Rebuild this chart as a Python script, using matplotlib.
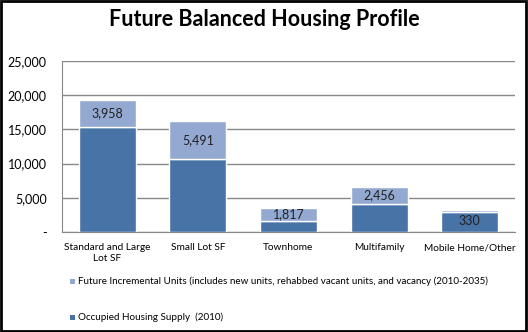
import matplotlib
matplotlib.use("Agg")
import matplotlib.pyplot as plt
from matplotlib.patches import Rectangle
import numpy as np

categories = ["Standard and Large\nLot SF", "Small Lot SF", "Townhome", "Multifamily", "Mobile Home/Other"]
occupied = [15400, 10700, 1680, 4150, 2900]
incremental = [3958, 5491, 1817, 2456, 330]
yticks = [0, 5000, 10000, 15000, 20000, 25000]
ytick_labels = ["-", "5,000", "10,000", "15,000", "20,000", "25,000"]
legend_labels = ["Future Incremental Units (includes new units, rehabbed vacant units, and vacancy (2010-2035)",
                 "Occupied Housing Supply  (2010)"]

dark = "#4773a7"
light = "#93a9d1"
grid = "#888888"
font = "Lato"

fig = plt.figure(figsize=(5.28, 3.32), dpi=100)
fig.patch.set_facecolor("white")
fig.add_artist(Rectangle((0.002, 0.003), 0.995, 0.994, transform=fig.transFigure,
                         fill=False, edgecolor="black", linewidth=2))

ax = fig.add_axes([62/528, 1-232/332, (515-62)/528, (232-61)/332])
x = np.arange(len(categories))
w = 0.63
ax.bar(x, occupied, width=w, color=dark, edgecolor="white", linewidth=1, zorder=3)
ax.bar(x, incremental, bottom=occupied, width=w, color=light, edgecolor="white", linewidth=1, zorder=3)

for i, (o, inc) in enumerate(zip(occupied, incremental)):
    yc = o + inc / 2
    dy = 0
    if inc < 800:
        dy = -7.5
    ax.annotate(f"{inc:,}", (x[i], yc), xytext=(0, dy), textcoords="offset points",
                ha="center", va="center", fontsize=9, family=font, color="#222222", zorder=5)

ax.set_xlim(-0.5, len(categories) - 0.5)
ax.set_ylim(0, 25000)
ax.set_yticks(yticks)
ax.set_yticklabels(ytick_labels, family=font, fontsize=9)
ax.set_xticks(x)
ax.set_xticklabels(categories, family=font, fontsize=7.3, linespacing=1.25)
ax.tick_params(axis="both", length=0)
ax.tick_params(axis="x", pad=8)
ax.tick_params(axis="y", pad=11)
ax.yaxis.grid(True, color=grid, linewidth=1, zorder=0)
ax.set_axisbelow(True)
for s in ["top", "right"]:
    ax.spines[s].set_visible(False)
ax.spines["left"].set_color(grid)
ax.spines["bottom"].set_color(grid)

fig.text(0.5, 1-20/332, "Future Balanced Housing Profile", ha="center", va="center",
         fontsize=15.5, fontweight="bold", family=font)

for ypix, lab, col in [(281, legend_labels[0], light), (317, legend_labels[1], dark)]:
    fig.add_artist(Rectangle((70/528, 1-(ypix+2.5)/332), 5/528, 5/332, transform=fig.transFigure,
                             facecolor=col, edgecolor="none"))
    fig.text(78/528, 1-ypix/332, lab, ha="left", va="center", fontsize=7.1, family=font)

fig.savefig("out.png", dpi=100)
